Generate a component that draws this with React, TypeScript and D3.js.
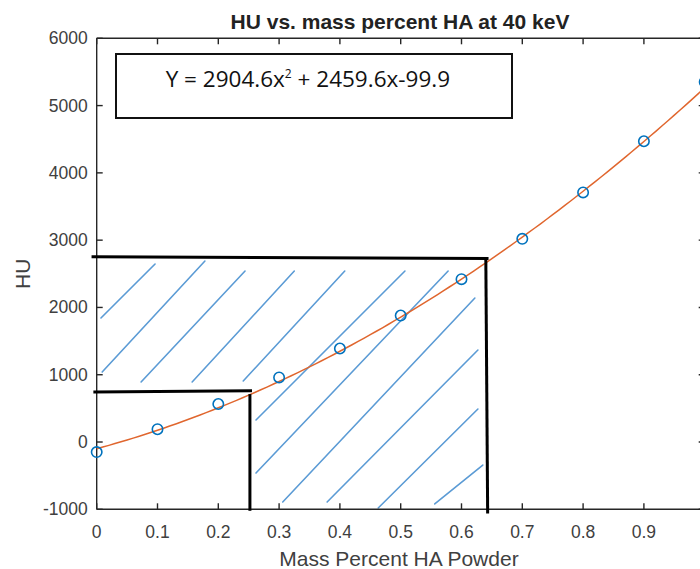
import React from "react";
import * as d3 from "d3";

// Calibration samples: mass fraction of HA powder vs. measured HU at 40 keV
const massPercent = [0, 0.1, 0.2, 0.3, 0.4, 0.5, 0.6, 0.7, 0.8, 0.9, 1.0];
const huValues = [-150, 190, 565, 960, 1390, 1880, 2420, 3020, 3710, 4470, 5350];

// Quadratic fit coefficients [a, b, c] for y = a x^2 + b x + c
const fitCoefficients = [2904.6, 2459.6, -99.9];

const xTicks = [0, 0.1, 0.2, 0.3, 0.4, 0.5, 0.6, 0.7, 0.8, 0.9, 1];
const yTicks = [-1000, 0, 1000, 2000, 3000, 4000, 5000, 6000];

// Annotation outlines (data units): [x1, y1, x2, y2]
const annotationLines = [
  [-0.006, 2753, 0.642, 2729],
  [0.640, 2729, 0.643, -1040],
  [-0.003, 745, 0.253, 760],
  [0.252, 690, 0.252, -1000],
];

// Hatch strokes inside the annotated region (data units): [x1, y1, x2, y2]
const hatchLines = [
  [0.007, 1843, 0.096, 2645],
  [0.009, 1040, 0.178, 2690],
  [0.073, 892, 0.244, 2541],
  [0.157, 892, 0.325, 2541],
  [0.241, 907, 0.408, 2541],
  [0.262, 327, 0.507, 2541],
  [0.262, -461, 0.578, 2541],
  [0.306, -892, 0.622, 2140],
  [0.379, -892, 0.627, 1367],
  [0.463, -981, 0.627, 490],
  [0.556, -921, 0.635, -342],
];

const W = 700;
const H = 569;
const left = 96.7;
const right = 704.7;
const top = 38.3;
const bottom = 509.3;

const axisColor = "#262626";
const labelFont = "'Liberation Sans', Arial, sans-serif";

export default function App() {
  const x = d3.scaleLinear().domain([0, 1]).range([left, right]);
  const y = d3.scaleLinear().domain([-1000, 6000]).range([bottom, top]);

  const [a, b, c] = fitCoefficients;
  const fitX = d3.range(0, 1.0001, 0.01);
  const fitPath = d3
    .line<number>()
    .x((d) => x(d))
    .y((d) => y(a * d * d + b * d + c))(fitX) as string;

  const tickLen = 6;

  return (
    <svg
      width={W}
      height={H}
      style={{ position: "absolute", left: 0, top: 0, background: "#fff" }}
    >
      <rect x={0} y={0} width={W} height={H} fill="#fff" />

      {/* hatch strokes */}
      <g stroke="#5B9BD5" strokeWidth={1.6} strokeLinecap="round">
        {hatchLines.map((l, i) => (
          <line key={i} x1={x(l[0])} y1={y(l[1])} x2={x(l[2])} y2={y(l[3])} />
        ))}
      </g>

      {/* axes box */}
      <g stroke={axisColor} strokeWidth={1.4} fill="none">
        <line x1={left} y1={bottom} x2={right} y2={bottom} />
        <line x1={left} y1={top} x2={right} y2={top} />
        <line x1={left} y1={top} x2={left} y2={bottom} />
        <line x1={right} y1={top} x2={right} y2={bottom} />
        {xTicks.map((t) => (
          <g key={"xt" + t}>
            <line x1={x(t)} y1={bottom} x2={x(t)} y2={bottom - tickLen} />
            <line x1={x(t)} y1={top} x2={x(t)} y2={top + tickLen} />
          </g>
        ))}
        {yTicks.map((t) => (
          <g key={"yt" + t}>
            <line x1={left} y1={y(t)} x2={left + tickLen} y2={y(t)} />
            <line x1={right} y1={y(t)} x2={right - tickLen} y2={y(t)} />
          </g>
        ))}
      </g>

      {/* tick labels */}
      <g fill="#404040" fontFamily={labelFont} fontSize={17.5}>
        {xTicks.map((t) => (
          <text key={"xl" + t} x={x(t)} y={bottom + 29} textAnchor="middle">
            {String(t)}
          </text>
        ))}
        {yTicks.map((t) => (
          <text
            key={"yl" + t}
            x={left - 9}
            y={y(t)}
            textAnchor="end"
            dominantBaseline="central"
          >
            {String(t)}
          </text>
        ))}
      </g>

      {/* axis titles */}
      <text
        x={399}
        y={566}
        textAnchor="middle"
        fontFamily={labelFont}
        fontSize={21}
        fill="#404040"
      >
        Mass Percent HA Powder
      </text>
      <text
        transform={`translate(30, ${(top + bottom) / 2}) rotate(-90)`}
        textAnchor="middle"
        fontFamily={labelFont}
        fontSize={21}
        fill="#404040"
      >
        HU
      </text>
      <text
        x={400}
        y={29}
        textAnchor="middle"
        fontFamily={labelFont}
        fontWeight="bold"
        fontSize={21}
        fill="#222"
      >
        HU vs. mass percent HA at 40 keV
      </text>

      {/* fitted curve */}
      <path d={fitPath} fill="none" stroke="#E0662E" strokeWidth={1.5} />

      {/* measured samples */}
      <g fill="none" stroke="#0072BD" strokeWidth={1.6}>
        {massPercent.map((m, i) => (
          <circle key={i} cx={x(m)} cy={y(huValues[i])} r={5.2} />
        ))}
      </g>

      {/* annotation outlines */}
      <g stroke="#000" strokeWidth={3} strokeLinecap="square">
        {annotationLines.map((l, i) => (
          <line key={i} x1={x(l[0])} y1={y(l[1])} x2={x(l[2])} y2={y(l[3])} />
        ))}
      </g>

      {/* equation box */}
      <rect
        x={116}
        y={54}
        width={396}
        height={64}
        fill="#fff"
        stroke="#111"
        strokeWidth={2}
      />
      <text
        x={165.7}
        y={87}
        fontFamily="'Open Sans', 'Noto Sans', sans-serif"
        fontSize={22.5}
        fill="#111"
      >
        Y = 2904.6x
        <tspan fontSize={12} dy={-9}>
          2
        </tspan>
        <tspan dy={9}> + 2459.6x-99.9</tspan>
      </text>
    </svg>
  );
}
